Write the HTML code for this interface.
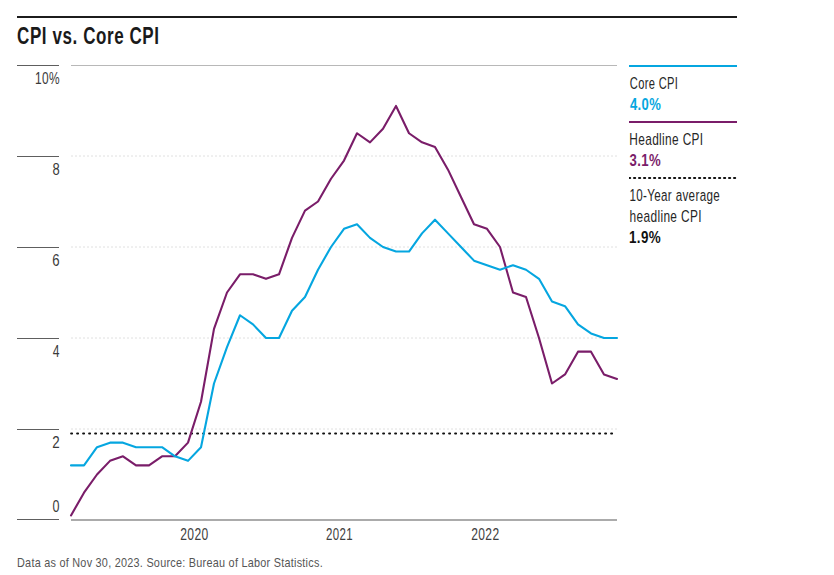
<!DOCTYPE html>
<html><head><meta charset="utf-8"><style>
html,body{margin:0;padding:0;background:#fff;}
body{width:834px;height:575px;overflow:hidden;}
svg{display:block;font-family:"Liberation Sans",sans-serif;}
</style></head><body>
<svg width="834" height="575" viewBox="0 0 834 575">
<rect x="17" y="16" width="720" height="2" fill="#1c1c1c"/>
<rect x="71" y="65" width="546" height="1" fill="#b8b8b8"/>
<line x1="71" y1="156.00" x2="617" y2="156.00" stroke="#e0e0e0" stroke-width="1" stroke-dasharray="2 2"/>
<line x1="71" y1="247.00" x2="617" y2="247.00" stroke="#e0e0e0" stroke-width="1" stroke-dasharray="2 2"/>
<line x1="71" y1="338.00" x2="617" y2="338.00" stroke="#e0e0e0" stroke-width="1" stroke-dasharray="2 2"/>
<line x1="71" y1="429.00" x2="617" y2="429.00" stroke="#e0e0e0" stroke-width="1" stroke-dasharray="2 2"/>
<rect x="17" y="65" width="42" height="1" fill="#5e5e5e"/>
<rect x="17" y="156" width="42" height="1" fill="#5e5e5e"/>
<rect x="17" y="247" width="42" height="1" fill="#5e5e5e"/>
<rect x="17" y="338" width="42" height="1" fill="#5e5e5e"/>
<rect x="17" y="429" width="42" height="1" fill="#5e5e5e"/>
<rect x="17" y="519" width="42" height="1" fill="#5e5e5e"/>
<rect x="71" y="519" width="546" height="2" fill="#ababab"/>
<line x1="71.1" y1="433.45" x2="614" y2="433.45" stroke="#111111" stroke-width="2" stroke-dasharray="1 5" stroke-linecap="round"/>
<polyline points="71.00,515.45 84.00,492.70 97.00,474.50 110.00,460.85 123.00,456.30 136.00,465.40 149.00,465.40 162.00,456.30 175.00,456.30 188.00,442.65 201.00,401.70 214.00,328.90 227.00,292.50 240.00,274.30 253.00,274.30 266.00,278.85 279.00,274.30 292.00,237.90 305.00,210.60 318.00,201.50 331.00,178.75 344.00,160.55 357.00,133.25 370.00,142.35 383.00,128.70 396.00,105.95 409.00,133.25 422.00,142.35 435.00,146.90 448.00,169.65 461.00,196.95 474.00,224.25 487.00,228.80 500.00,247.00 513.00,292.50 526.00,297.05 539.00,338.00 552.00,383.50 565.00,374.40 578.00,351.65 591.00,351.65 604.00,374.40 617.00,378.95" fill="none" stroke="#7a1d69" stroke-width="2.1" stroke-linejoin="round" stroke-linecap="round"/>
<polyline points="71.00,465.40 84.00,465.40 97.00,447.20 110.00,442.65 123.00,442.65 136.00,447.20 149.00,447.20 162.00,447.20 175.00,456.30 188.00,460.85 201.00,447.20 214.00,383.50 227.00,347.10 240.00,315.25 253.00,324.35 266.00,338.00 279.00,338.00 292.00,310.70 305.00,297.05 318.00,269.75 331.00,247.00 344.00,228.80 357.00,224.25 370.00,237.90 383.00,247.00 396.00,251.55 409.00,251.55 422.00,233.35 435.00,219.70 448.00,233.35 461.00,247.00 474.00,260.65 487.00,265.20 500.00,269.75 513.00,265.20 526.00,269.75 539.00,278.85 552.00,301.60 565.00,306.15 578.00,324.35 591.00,333.45 604.00,338.00 617.00,338.00" fill="none" stroke="#05a6e0" stroke-width="2.1" stroke-linejoin="round" stroke-linecap="round"/>
<rect x="629" y="65" width="108" height="2" fill="#05a6e0"/>
<rect x="629" y="121" width="108" height="2" fill="#7a1d69"/>
<clipPath id="lc"><rect x="629" y="170" width="108" height="20"/></clipPath><line clip-path="url(#lc)" x1="629.0" y1="178.0" x2="740" y2="178.0" stroke="#111111" stroke-width="2" stroke-dasharray="1.2 3.8" stroke-linecap="round"/>
<text x="17.10" y="43.87" font-size="23.16" letter-spacing="0.80" font-weight="bold" fill="#1a1a1a" transform="translate(17.10 0) scale(0.7336 1) translate(-17.10 0)">CPI vs. Core CPI</text>
<text x="34.99" y="83.73" font-size="16.80" letter-spacing="0.50" font-weight="normal" fill="#3a3a3a" transform="translate(34.99 0) scale(0.7090 1) translate(-34.99 0)">10%</text>
<text x="52.44" y="174.63" font-size="16.80" letter-spacing="0.00" font-weight="normal" fill="#3a3a3a" transform="translate(52.44 0) scale(0.7734 1) translate(-52.44 0)">8</text>
<text x="52.33" y="265.58" font-size="16.80" letter-spacing="0.00" font-weight="normal" fill="#3a3a3a" transform="translate(52.33 0) scale(0.7866 1) translate(-52.33 0)">6</text>
<text x="52.72" y="356.63" font-size="16.80" letter-spacing="0.00" font-weight="normal" fill="#3a3a3a" transform="translate(52.72 0) scale(0.7205 1) translate(-52.72 0)">4</text>
<text x="52.33" y="448.42" font-size="16.80" letter-spacing="0.00" font-weight="normal" fill="#3a3a3a" transform="translate(52.33 0) scale(0.7968 1) translate(-52.33 0)">2</text>
<text x="52.61" y="511.78" font-size="16.80" letter-spacing="0.00" font-weight="normal" fill="#3a3a3a" transform="translate(52.61 0) scale(0.7468 1) translate(-52.61 0)">0</text>
<text x="180.29" y="539.70" font-size="17.00" letter-spacing="0.50" font-weight="normal" fill="#404040" transform="translate(180.29 0) scale(0.7123 1) translate(-180.29 0)">2020</text>
<text x="326.12" y="539.70" font-size="17.00" letter-spacing="0.50" font-weight="normal" fill="#404040" transform="translate(326.12 0) scale(0.6751 1) translate(-326.12 0)">2021</text>
<text x="471.29" y="539.70" font-size="17.00" letter-spacing="0.50" font-weight="normal" fill="#404040" transform="translate(471.29 0) scale(0.7077 1) translate(-471.29 0)">2022</text>
<text x="629.83" y="88.71" font-size="16.60" letter-spacing="0.50" font-weight="normal" fill="#262626" transform="translate(629.83 0) scale(0.6706 1) translate(-629.83 0)">Core CPI</text>
<text x="630.00" y="109.73" font-size="16.80" letter-spacing="0.50" font-weight="bold" fill="#05a6e0" transform="translate(630.00 0) scale(0.7756 1) translate(-630.00 0)">4.0%</text>
<text x="629.33" y="144.88" font-size="16.60" letter-spacing="0.50" font-weight="normal" fill="#262626" transform="translate(629.33 0) scale(0.7152 1) translate(-629.33 0)">Headline CPI</text>
<text x="629.50" y="165.82" font-size="16.80" letter-spacing="0.50" font-weight="bold" fill="#7a1d69" transform="translate(629.50 0) scale(0.7833 1) translate(-629.50 0)">3.1%</text>
<text x="629.41" y="200.90" font-size="16.60" letter-spacing="0.50" font-weight="normal" fill="#262626" transform="translate(629.41 0) scale(0.7001 1) translate(-629.41 0)">10-Year average</text>
<text x="629.47" y="221.88" font-size="16.60" letter-spacing="0.50" font-weight="normal" fill="#262626" transform="translate(629.47 0) scale(0.7177 1) translate(-629.47 0)">headline CPI</text>
<text x="628.96" y="242.93" font-size="16.80" letter-spacing="0.50" font-weight="bold" fill="#111111" transform="translate(628.96 0) scale(0.7970 1) translate(-628.96 0)">1.9%</text>
<text x="17.01" y="566.60" font-size="12.97" letter-spacing="0.30" font-weight="normal" fill="#555555" transform="translate(17.01 0) scale(0.8376 1) translate(-17.01 0)">Data as of Nov 30, 2023. Source: Bureau of Labor Statistics.</text>
</svg>
</body></html>
